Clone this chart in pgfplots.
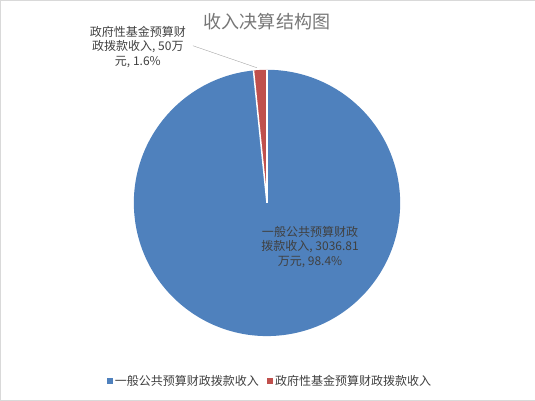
\documentclass[border=0pt]{standalone}
\usepackage{pgfplots}
\pgfplotsset{compat=1.18}
\usepackage{fontspec}
\setmainfont{Noto Sans CJK SC}
\definecolor{sBlue}{HTML}{4F81BD}
\definecolor{sRed}{HTML}{C0504D}
\definecolor{txt}{HTML}{404040}
\definecolor{ttl}{HTML}{767676}
\definecolor{frame}{HTML}{D9D9D9}
\begin{document}
\begin{tikzpicture}
\pgfmathsetmacro{\va}{3036.81}
\pgfmathsetmacro{\vb}{50}
\pgfmathsetmacro{\tot}{\va+\vb}
\pgfmathsetmacro{\fr}{\vb/\tot}
\pgfmathsetmacro{\sa}{90+360*\fr}
\begin{axis}[x=1pt,y=1pt,xmin=0,xmax=535,ymin=0,ymax=401,hide axis,clip=false,
  legend columns=2,
  legend style={draw=none,fill=none,at={(axis cs:270,20)},anchor=center,
    font=\fontsize{12}{14}\selectfont,text=txt,
    /tikz/every even column/.append style={column sep=6pt}},
  legend image code/.code={\fill[#1] (0pt,-3pt) rectangle (6pt,3pt);}]
\addlegendimage{fill=sBlue,draw=none}
\addlegendentry{一般公共预算财政拨款收入}
\addlegendimage{fill=sRed,draw=none}
\addlegendentry{政府性基金预算财政拨款收入}
\fill[sBlue] (axis cs:267,198) -- +(\sa:133pt) arc[start angle=\sa,end angle=450,radius=133pt] -- cycle;
\fill[sRed] (axis cs:267,198) -- +(90:133pt) arc[start angle=90,end angle=\sa,radius=133pt] -- cycle;
\draw[white,line width=1.5pt] (axis cs:267,198) -- +(90:133pt);
\draw[white,line width=1.5pt] (axis cs:267,198) -- +(\sa:133pt);
\draw[gray!70] (axis cs:193,355) -- (axis cs:257,333);
\node[align=center,text=txt,font=\fontsize{12}{14.5}\selectfont] at (axis cs:138,354) {政府性基金预算财\\政拨款收入, 50万\\元, 1.6\%};
\node[align=center,text=txt,font=\fontsize{12}{14.5}\selectfont] at (axis cs:310,154) {一般公共预算财政\\拨款收入, 3036.81\\万元, 98.4\%};
\node[text=ttl,font=\fontsize{18}{20}\selectfont] at (axis cs:267,379) {收入决算结构图};
\draw[frame] (axis cs:0.5,0.5) rectangle (axis cs:534.5,400.5);
\end{axis}
\end{tikzpicture}
\end{document}
